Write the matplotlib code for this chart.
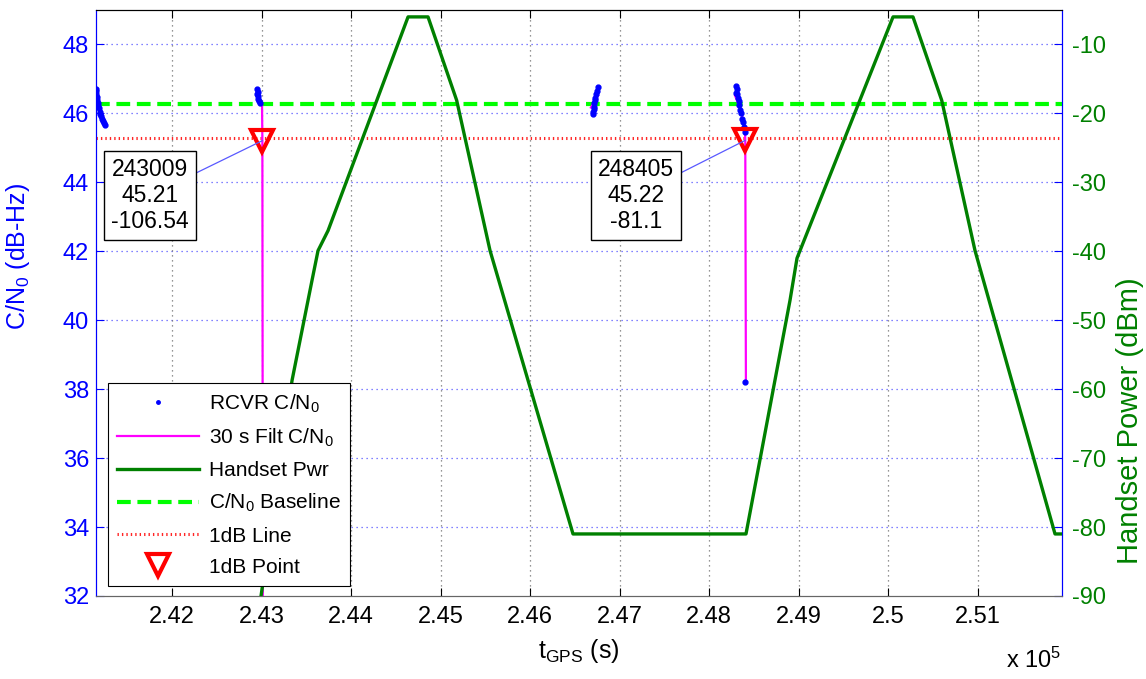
import numpy as np
import matplotlib
matplotlib.use("Agg")
import matplotlib.pyplot as plt
from matplotlib.lines import Line2D

plt.rcParams['font.family'] = ['Liberation Sans', 'DejaVu Sans']
plt.rcParams['mathtext.fontset'] = 'custom'
plt.rcParams['mathtext.rm'] = 'Liberation Sans'
plt.rcParams['mathtext.it'] = 'Liberation Sans:italic'
plt.rcParams['axes.unicode_minus'] = False

# ---------------- data ----------------
# receiver C/N0 samples (s, dB-Hz)
t_rcvr = [241145, 241150, 241155, 241160, 241165, 241170, 241175, 241180, 241190,
          241200, 241210, 241220, 241230, 241240, 241250,
          242945, 242950, 242955, 242960, 242965, 242970, 242978,
          246700, 246705, 246710, 246715, 246720, 246725, 246730, 246735, 246745, 246755,
          248300, 248305, 248310, 248315, 248320, 248330, 248340, 248350, 248360,
          248370, 248380, 248390, 248400, 248402]
cn0_rcvr = [46.72, 46.65, 46.55, 46.48, 46.40, 46.30, 46.22, 46.15, 46.05,
            45.98, 45.92, 45.85, 45.78, 45.72, 45.66,
            46.55, 46.72, 46.62, 46.50, 46.42, 46.35, 46.30,
            45.98, 46.05, 46.12, 46.20, 46.30, 46.38, 46.45, 46.55, 46.65, 46.78,
            46.60, 46.80, 46.70, 46.55, 46.45, 46.35, 46.25, 46.10, 46.00,
            45.85, 45.75, 45.60, 45.45, 38.22]

# 30 s filtered C/N0 (NaN separates segments)
t_filt = [241145, 241250, np.nan,
          242950, 242975, 243005, 243009, 243015, np.nan,
          246680, 246760, np.nan,
          248290, 248340, 248400, 248405, 248412]
cn0_filt = [46.60, 45.74, np.nan,
            46.62, 46.35, 46.30, 45.21, 30.0, np.nan,
            46.17, 46.52, np.nan,
            46.52, 46.20, 45.60, 45.22, 38.22]

# handset power (s, dBm)
t_pwr = [242939, 242994, 243341, 243564, 243631, 243743, 244637, 244860, 245180,
         245553, 246480, 248413, 248905, 248983, 250056, 250279, 250600, 250972,
         251866, 251950]
pwr = [-94.2, -90.0, -58.7, -44.2, -39.9, -37.0, -6.0, -6.0, -18.1,
       -39.9, -81.0, -81.0, -47.1, -41.0, -6.0, -6.0, -18.1, -39.9,
       -81.0, -81.0]

cn0_baseline = 46.28
cn0_1db = 45.28

t_1db = [243009, 248405]
cn0_1db_pts = [45.21, 45.22]
pwr_1db_pts = [-106.54, -81.1]

xticks = [242000, 243000, 244000, 245000, 246000, 247000, 248000, 249000, 250000, 251000]
xticklabels = ['2.42', '2.43', '2.44', '2.45', '2.46', '2.47', '2.48', '2.49', '2.5', '2.51']
yticks_l = [32, 34, 36, 38, 40, 42, 44, 46, 48]
yticks_r = [-90, -80, -70, -60, -50, -40, -30, -20, -10]

# ---------------- figure ----------------
W, H = 1146, 679
fig = plt.figure(figsize=(W / 100, H / 100), dpi=100)
L, R, B, T = 96, 1062, 596, 10
ax = fig.add_axes([L / W, 1 - B / H, (R - L) / W, (B - T) / H])
ax2 = ax.twinx()

blue = (0, 0, 1)
dgreen = (0, 0.5, 0)
fs_tick = 17

xlim = (241150, 251944)
ax.set_xlim(*xlim)
ax.set_ylim(32, 49)
ax2.set_ylim(-90, -5)

ax.axhline(cn0_baseline, color=(0, 1, 0), lw=3.0, ls=(0, (3.3, 1.6)), zorder=3)
ax.axhline(cn0_1db, color=(1, 0.15, 0.15), lw=2.2, ls=(0, (0.45, 1.0)), zorder=3)
ax.plot(t_filt, cn0_filt, color=(1, 0, 1), lw=1.6, zorder=4)
ax.plot(t_rcvr, cn0_rcvr, ls='none', marker='.', ms=7, color=blue, zorder=5)
ax.plot(t_1db, cn0_1db_pts, ls='none', marker='v', ms=16, mfc='none', mec=(1, 0, 0),
        mew=3, zorder=6)

ax2.plot(t_pwr, pwr, color=dgreen, lw=2.4, zorder=3)

# grid
ax.set_xticks(xticks)
ax.set_xticklabels(xticklabels)
ax.set_yticks(yticks_l)
ax2.set_yticks(yticks_r)
for y in yticks_l[1:]:
    ax.axhline(y, color=(0.35, 0.35, 1), lw=0.9, ls=(0, (1, 3)), zorder=1)
for x in xticks:
    ax.axvline(x, color=(0.45, 0.45, 0.45), lw=0.9, ls=(0, (1, 3)), zorder=1)

ax.tick_params(axis='x', direction='in', length=6, top=True, labelsize=fs_tick,
               pad=7, colors='black')
ax.tick_params(axis='y', direction='in', length=6, colors=blue, labelsize=fs_tick, pad=5)
ax2.tick_params(axis='y', direction='in', length=6, color=blue, labelcolor=dgreen,
                labelsize=fs_tick, pad=7)

ax.spines['left'].set_color(blue)
ax2.spines['left'].set_color(blue)
ax2.spines['right'].set_color(blue)
ax.spines['right'].set_color(blue)
ax.spines['top'].set_color('black')
ax2.spines['top'].set_color('black')
ax.spines['bottom'].set_color('0.4')
ax2.spines['bottom'].set_color('0.4')

ax.set_ylabel(r'C/N$_\mathregular{0}$ (dB-Hz)', color=blue, fontsize=18)
ax.yaxis.set_label_coords(-0.066, 0.58)
ax2.set_ylabel('Handset Power (dBm)', color=dgreen, fontsize=21)
ax2.yaxis.set_label_coords(1.056, 0.30)
ax.set_xlabel(r't$_\mathregular{GPS}$ (s)', fontsize=18, labelpad=7)
fig.text(1006 / W, 1 - 668 / H, r'x 10$^\mathregular{5}$', fontsize=fs_tick, ha='left',
         va='baseline')

# annotations
for (tx, ty, ptx, pty, pw) in [(241754, 43.62, t_1db[0], cn0_1db_pts[0], pwr_1db_pts[0]),
                               (247184, 43.62, t_1db[1], cn0_1db_pts[1], pwr_1db_pts[1])]:
    txt = f"{ptx}\n{pty:.2f}\n{pw:g}"
    ax2.annotate(txt, xy=(ptx, (pty - 32) / 17 * 85 - 90), xytext=(tx, (ty - 32) / 17 * 85 - 90),
                 ha='center', va='center', multialignment='center', fontsize=16.5,
                 linespacing=1.15,
                 bbox=dict(boxstyle='square,pad=0.3', fc='white', ec='black', lw=1.0),
                 arrowprops=dict(arrowstyle='-', color=(0.35, 0.35, 1), lw=0.9,
                                 shrinkA=0, shrinkB=0),
                 zorder=8)

handles = [
    Line2D([], [], ls='none', marker='.', ms=5, color=blue),
    Line2D([], [], color=(1, 0, 1), lw=1.6),
    Line2D([], [], color=dgreen, lw=2.4),
    Line2D([], [], color=(0, 1, 0), lw=3.0, ls=(0, (3.3, 1.6))),
    Line2D([], [], color=(1, 0.15, 0.15), lw=2.2, ls=(0, (0.45, 1.0))),
    Line2D([], [], ls='none', marker='v', ms=16, mfc='none', mec=(1, 0, 0), mew=3),
]
labels = [r'RCVR C/N$_\mathregular{0}$', r'30 s Filt C/N$_\mathregular{0}$', 'Handset Pwr',
          r'C/N$_\mathregular{0}$ Baseline', '1dB Line', '1dB Point']
leg = ax2.legend(handles, labels, loc='lower left', bbox_to_anchor=(0.0124, 0.017),
                 borderaxespad=0, fontsize=15, handlelength=3.9, handletextpad=0.5,
                 labelspacing=0.58, borderpad=0.45, fancybox=False, framealpha=1,
                 edgecolor='black')
leg.get_frame().set_linewidth(0.8)
leg.set_zorder(10)

fig.savefig('out.png', dpi=100)
